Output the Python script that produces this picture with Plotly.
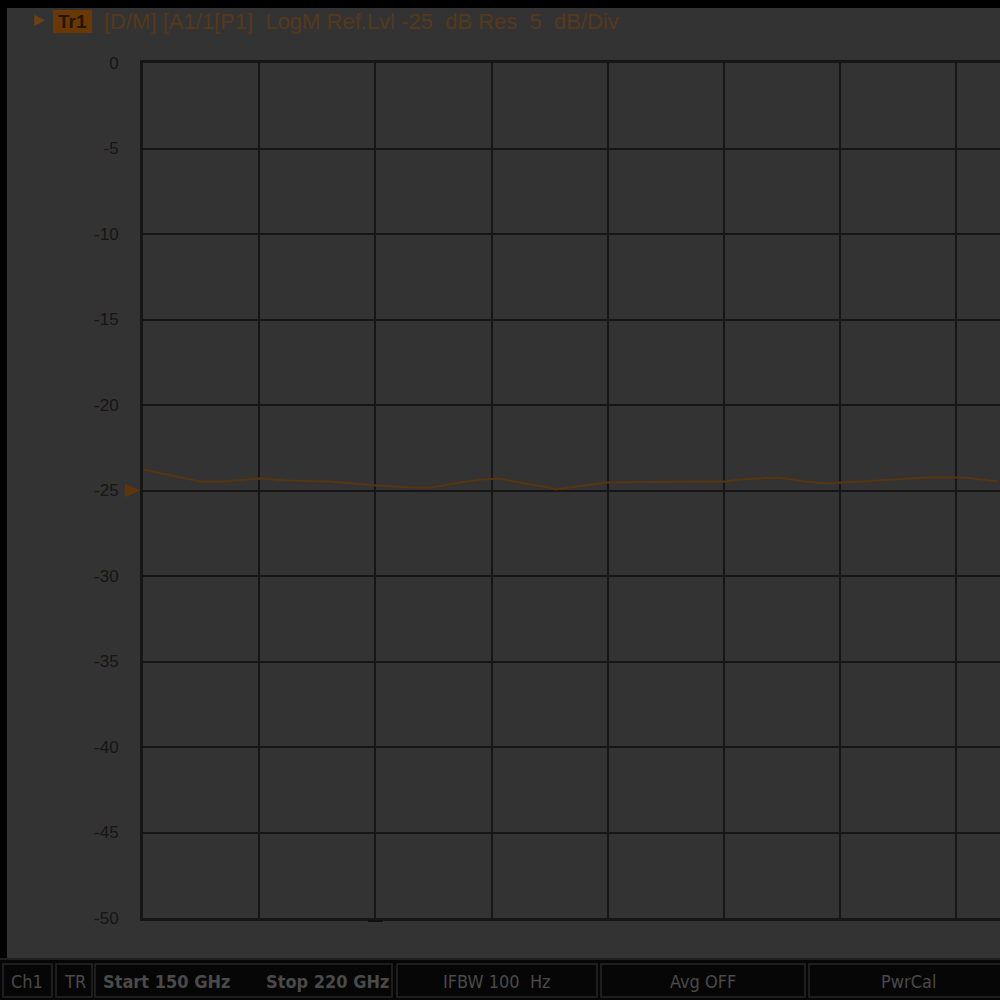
import plotly.graph_objects as go

# ---- data (frequency in GHz, magnitude in dB) ----
freq_ghz = [150.0, 153.43, 154.81, 157.03, 158.65, 161.24, 164.06, 166.23, 167.43,
            169.05, 170.43, 171.45, 172.66, 174.46, 174.88, 176.44, 177.88, 183.29,
            185.10, 185.88, 188.28, 189.90, 191.11, 193.27, 194.89, 197.30, 199.52,
            201.50]
logmag_db = [-23.77, -24.47, -24.47, -24.30, -24.42, -24.47, -24.71, -24.82, -24.82,
             -24.53, -24.36, -24.30, -24.53, -24.82, -24.94, -24.71, -24.53, -24.47,
             -24.47, -24.36, -24.24, -24.47, -24.59, -24.47, -24.36, -24.24, -24.24,
             -24.47]
y_ticks = [0, -5, -10, -15, -20, -25, -30, -35, -40, -45, -50]
start_ghz = 150
step_ghz = 7
ref_level = -25
status_items = [("Ch1", 27, False), ("TR", 75, False), ("Start 150 GHz", 166, True),
                ("Stop 220 GHz", 327, True), ("IFBW 100  Hz", 497, False),
                ("Avg OFF", 703, False), ("PwrCal", 908, False)]
status_boxes = [(3, 52), (56, 92), (95, 392), (397, 597), (601, 805), (809, 1003)]
header_text = "[D/M] [A1/1[P1]  LogM Ref.Lvl -25  dB Res  5  dB/Div"

# ---- layout geometry (pixels) ----
L, R, T, B = 143, 1000, 63, 918
W, H = R - L, B - T


def px(x):
    return (x - L) / W


def py(y):
    return (B - y) / H


BG = "#333333"
GRID = "#161616"
TRACE = "#57350f"
HDR = "#55391b"
STAT = "#4a4a4a"

fig = go.Figure()
fig.add_trace(go.Scatter(x=freq_ghz, y=logmag_db, mode="lines",
                         line=dict(color=TRACE, width=2), hoverinfo="skip",
                         showlegend=False))

x_span = W / 116.2 * step_ghz

shapes = []
# top black band
shapes.append(dict(type="rect", xref="paper", yref="paper", x0=px(0), x1=px(1000),
                   y0=py(8), y1=py(0), fillcolor="#000000", line_width=0, layer="above"))
# left black border
shapes.append(dict(type="rect", xref="paper", yref="paper", x0=px(0), x1=px(7),
                   y0=py(958), y1=py(8), fillcolor="#000000", line_width=0, layer="above"))
# bottom status bar
shapes.append(dict(type="rect", xref="paper", yref="paper", x0=px(0), x1=px(1000),
                   y0=py(1000), y1=py(958), fillcolor="#060606", line_width=0, layer="above"))
shapes.append(dict(type="line", xref="paper", yref="paper", x0=px(0), x1=px(1000),
                   y0=py(959), y1=py(959), line=dict(color="#1e1e1e", width=2), layer="above"))
for x0, x1 in status_boxes:
    shapes.append(dict(type="rect", xref="paper", yref="paper", x0=px(x0), x1=px(x1),
                       y0=py(997), y1=py(964), fillcolor="rgba(0,0,0,0)",
                       line=dict(color="#262626", width=1.5), layer="above"))
# Tr1 box
shapes.append(dict(type="rect", xref="paper", yref="paper", x0=px(53), x1=px(92),
                   y0=py(33), y1=py(10), fillcolor="#6a3802", line_width=0, layer="above"))
# reference level marker (triangle on left at -25 dB)
shapes.append(dict(type="path", xref="paper", yref="y",
                   path=f"M {px(125)},{ref_level + 0.4} L {px(140)},{ref_level} L {px(125)},{ref_level - 0.4} Z",
                   fillcolor="#603608", line_width=0, layer="above"))
# small mark at bottom
shapes.append(dict(type="line", xref="x", yref="paper", x0=start_ghz + 2 * step_ghz - 0.45,
                   x1=start_ghz + 2 * step_ghz + 0.45, y0=py(921), y1=py(921),
                   line=dict(color="#111111", width=2), layer="above"))

annotations = []
annotations.append(dict(xref="paper", yref="paper", x=px(39), y=py(18), text="▶",
                        showarrow=False, font=dict(size=14, color="#6e420e"),
                        xanchor="center", yanchor="middle"))
annotations.append(dict(xref="paper", yref="paper", x=px(72.5), y=py(21.5), text="<b>Tr1</b>",
                        showarrow=False, font=dict(size=19, color="#241402",
                                                   family="Liberation Sans, Arial"),
                        xanchor="center", yanchor="middle"))
annotations.append(dict(xref="paper", yref="paper", x=px(102), y=py(21.5), text=header_text,
                        showarrow=False, font=dict(size=22, color=HDR,
                                                   family="Liberation Sans, Arial"),
                        xanchor="left", yanchor="middle"))
for txt, cx, bold in status_items:
    annotations.append(dict(xref="paper", yref="paper", x=px(cx), y=py(981),
                            text=f"<b>{txt}</b>" if bold else txt, showarrow=False,
                            font=dict(size=18, color=STAT,
                                      family="Liberation Sans Narrow, DejaVu Sans Condensed, Liberation Sans"),
                            xanchor="center", yanchor="middle"))

fig.update_layout(
    width=1000, height=1000,
    margin=dict(l=L, r=0, t=T, b=1000 - B, pad=0),
    paper_bgcolor=BG, plot_bgcolor=BG,
    shapes=shapes, annotations=annotations,
    showlegend=False,
    xaxis=dict(range=[start_ghz, start_ghz + x_span], tick0=start_ghz, dtick=step_ghz,
               showticklabels=False, showgrid=True, gridcolor=GRID, gridwidth=2,
               zeroline=False, showline=True, linecolor=GRID, linewidth=3, mirror=True,
               ticks="", fixedrange=True),
    yaxis=dict(range=[-50, 0], tickvals=y_ticks, ticktext=[str(v) for v in y_ticks],
               showgrid=True, gridcolor=GRID, gridwidth=2, zeroline=False,
               showline=True, linecolor=GRID, linewidth=3, mirror=False,
               ticks="", ticklabelstandoff=18,
               tickfont=dict(size=17, color="#151515", family="Liberation Sans, Arial"),
               fixedrange=True),
)

fig.write_html("out.html", config=dict(displayModeBar=False))
